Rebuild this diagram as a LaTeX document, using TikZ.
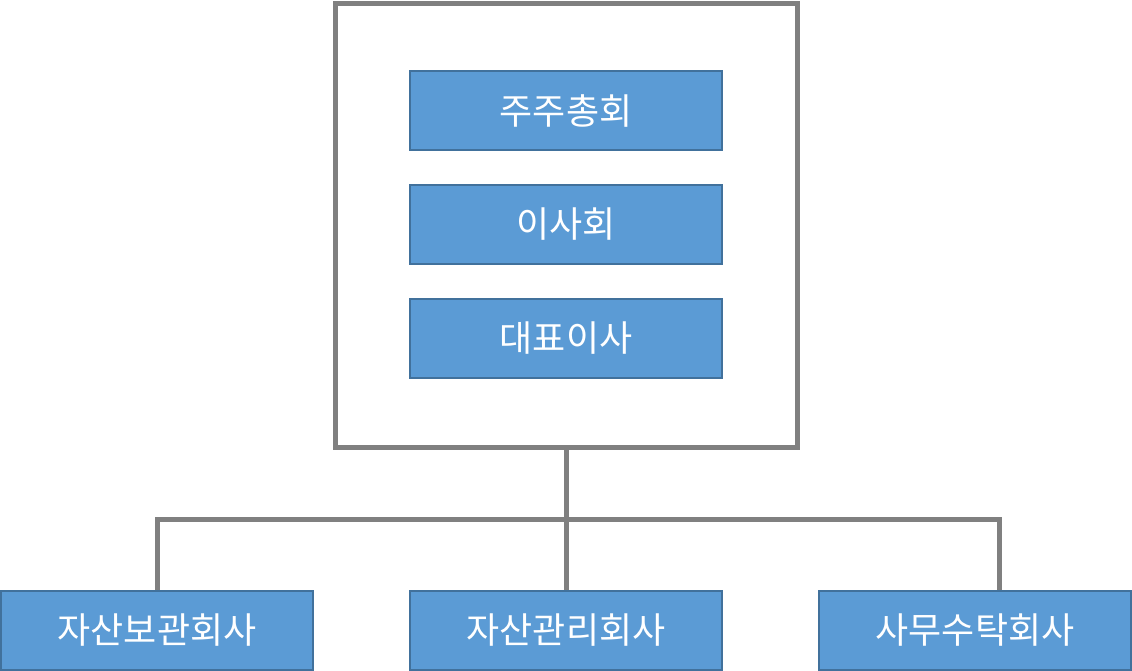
\documentclass[tikz,border=0pt]{standalone}
\usepackage{fontspec}
\newfontfamily\krfont{Noto Sans CJK KR}
\usepackage{tikz}
\usetikzlibrary{positioning,calc}
\pgfdeclarelayer{background}
\pgfsetlayers{background,main}
\definecolor{orgfill}{RGB}{91,155,213}
\definecolor{orgline}{RGB}{65,113,156}
\definecolor{orggray}{RGB}{128,128,128}
\tikzstyle{orgedge} = [orggray, line width = 3.75pt]
\tikzstyle{orgframe} = [draw = orggray, line width = 3.75pt, fill = white, minimum width = 346.5pt, minimum height = 333pt]
\tikzstyle{orgbox} = [draw = orgline, fill = orgfill, line width = 1.1pt, text = white, font = \krfont\fontsize{27pt}{30pt}\selectfont, minimum width = 234pt, minimum height = 59.25pt, inner sep = 0pt]

\begin{document}
\begin{tikzpicture}[x = 0.75pt, y = -0.75pt]
\useasboundingbox (0,0) rectangle (1132,671);
\node[orgframe] (frame) at (566,225) {};
\node[orgbox] (meeting) at (566,110.5) {주주총회};
\node[orgbox] (board) at (566,224.5) {이사회};
\node[orgbox] (ceo) at (566,338.5) {대표이사};
\node[orgbox] (custody) at (157,630.5) {자산보관회사};
\node[orgbox] (manage) at (566,630.5) {자산관리회사};
\node[orgbox] (office) at (975,630.5) {사무수탁회사};
\coordinate (bus) at (566,519);
\begin{pgfonlayer}{background}
\draw[orgedge] (frame.south) -- (manage.north);
\draw[orgedge] (custody.north) |- (bus) -| ($(office.north)+(24,0)$);
\end{pgfonlayer}
\end{tikzpicture}
\end{document}
